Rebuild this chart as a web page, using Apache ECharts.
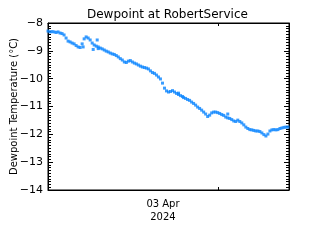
<!DOCTYPE html>
<html><head><meta charset="utf-8">
<script src="https://cdn.jsdelivr.net/npm/echarts@6/dist/echarts.min.js"></script>
<style>html,body{margin:0;padding:0;background:#fff}#c{width:320px;height:240px}</style>
</head><body><div id="c"></div>
<script>
// hours since start of window
const hours = [0.0,0.2,0.4,0.6,0.8,1.0,1.2,1.4,1.6,1.8,2.0,2.2,2.4,2.6,2.8,3.0,3.2,3.4,3.6,3.8,4.0,4.2,4.4,4.6,4.8,5.0,5.2,5.4,5.6,5.8,6.0,6.2,6.4,6.6,6.8,7.0,7.2,7.4,7.6,7.8,8.0,8.2,8.4,8.6,8.8,9.0,9.2,9.4,9.6,9.8,10.0,10.2,10.4,10.6,10.8,11.0,11.2,11.4,11.6,11.8,12.0,12.2,12.4,12.6,12.8,13.0,13.2,13.4,13.5,13.7,13.9,14.1,14.3,14.5,14.7,14.9,15.1,15.3,15.5,15.7,15.9,16.1,16.3,16.5,16.7,16.9,17.1,17.3,17.5,17.7,17.9,18.1,18.3,18.5,18.7,18.9,19.1,19.3,19.5,19.7,19.9,20.1,20.3,20.5,20.7,20.9,21.1,21.3,21.5,21.7,21.9,22.1,22.3,22.5,22.7,22.9,23.1,23.3,23.5,23.7,23.9,
  3.5,4.5,4.9,5.0,13.0,17.9];
const dewpoint = [-8.29,-8.32,-8.31,-8.32,-8.34,-8.32,-8.36,-8.38,-8.43,-8.54,-8.65,-8.68,-8.72,-8.75,-8.81,-8.86,-8.88,-8.75,-8.57,-8.50,-8.54,-8.61,-8.72,-8.79,-8.83,-8.86,-8.90,-8.93,-8.97,-9.01,-9.04,-9.08,-9.11,-9.13,-9.17,-9.22,-9.28,-9.33,-9.40,-9.42,-9.37,-9.35,-9.40,-9.44,-9.47,-9.51,-9.55,-9.58,-9.60,-9.62,-9.65,-9.72,-9.78,-9.81,-9.87,-9.94,-10.01,-10.16,-10.34,-10.44,-10.48,-10.46,-10.43,-10.48,-10.53,-10.57,-10.61,-10.64,-10.68,-10.71,-10.75,-10.78,-10.84,-10.89,-10.95,-11.02,-11.07,-11.13,-11.20,-11.27,-11.36,-11.31,-11.23,-11.20,-11.20,-11.22,-11.25,-11.29,-11.32,-11.38,-11.41,-11.43,-11.47,-11.52,-11.54,-11.49,-11.54,-11.59,-11.66,-11.74,-11.79,-11.83,-11.84,-11.86,-11.88,-11.88,-11.90,-11.95,-12.01,-12.06,-11.99,-11.88,-11.84,-11.83,-11.84,-11.83,-11.79,-11.77,-11.75,-11.74,-11.74,
  -8.86,-8.95,-8.61,-8.92,-10.52,-11.27];
const yTicks = [-14,-13,-12,-11,-10,-9,-8];
const dateLabelHour = 11.45;
const midnightHour = 17.0;
const dateLabel = '03 Apr\n2024';
const titleText = 'Dewpoint at RobertService';
const yName = 'Dewpoint Temperature (°C)';

const pts = hours.map((h,i)=>[h, dewpoint[i]]);
const font = 'DejaVu Sans';
const chart = echarts.init(document.getElementById('c'), null, {renderer:'canvas'});
const yCommon = {
  type:'value', min:yTicks[0], max:yTicks[yTicks.length-1], interval:1,
  axisLine:{show:true, onZero:false, lineStyle:{color:'#000', width:1}},
  axisTick:{show:true, inside:true, length:5, lineStyle:{color:'#000', width:1}},
  minorTick:{show:true, splitNumber:10, length:3, lineStyle:{color:'#000', width:1}},
  splitLine:{show:false}
};
const xCommon = {
  type:'value', min:0, max:24,
  axisLine:{show:true, onZero:false, lineStyle:{color:'#000', width:1}},
  axisTick:{show:true, inside:true, length:3, customValues:[midnightHour], lineStyle:{color:'#000'}},
  splitLine:{show:false}
};
chart.setOption({
  animation:false,
  backgroundColor:'#fff',
  title:{text:titleText, left:82, top:4,
    textStyle:{fontFamily:font, fontSize:12, fontWeight:'normal', color:'#000'}},
  grid:{left:48, right:31, top:23, bottom:50, show:true, borderColor:'#000', borderWidth:1, outerBoundsMode:'none'},
  xAxis:[
    Object.assign({}, xCommon, {position:'bottom',
      axisLabel:{show:true, customValues:[dateLabelHour], formatter:()=>dateLabel, margin:8,
        fontFamily:font, fontSize:10, color:'#000', lineHeight:13}}),
    Object.assign({}, xCommon, {position:'top', axisLabel:{show:false}})
  ],
  yAxis:[
    Object.assign({}, yCommon, {position:'left',
      name:yName, nameLocation:'middle', nameGap:29, nameRotate:90, nameMoveOverlap:false,
      nameTextStyle:{fontFamily:font, fontSize:10, color:'#000'},
      axisLabel:{show:true, margin:5, fontFamily:font, fontSize:11, color:'#000',
        formatter:v=>String(v).replace('-','\u2212')}}),
    Object.assign({}, yCommon, {position:'right', axisLabel:{show:false}})
  ],
  series:[{type:'scatter', data:pts, symbol:'rect', symbolSize:3,
    itemStyle:{color:'#0a84ff'}, xAxisIndex:0, yAxisIndex:0}]
});
</script></body></html>
